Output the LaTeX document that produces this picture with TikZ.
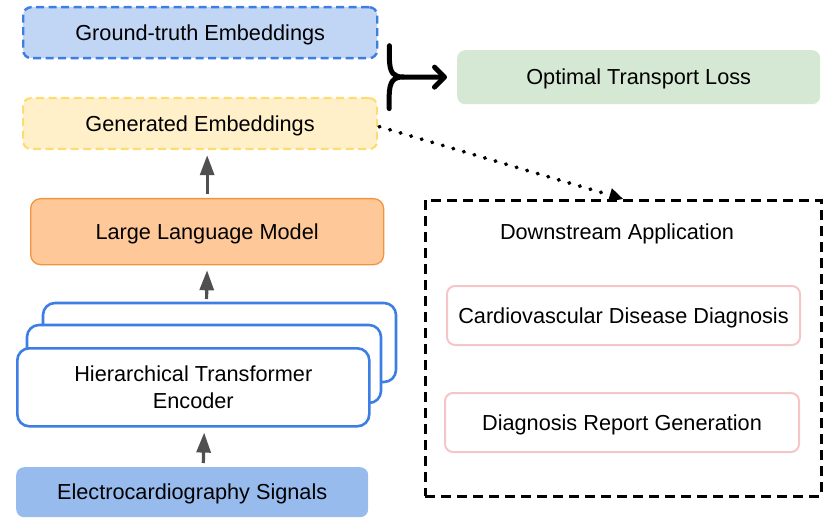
\documentclass[tikz,border=0pt]{standalone}
\usepackage{fontspec}
\setmainfont{Liberation Sans}
\usetikzlibrary{arrows.meta,calc}
\definecolor{gtfill}{HTML}{C1D6F5}
\definecolor{gtline}{HTML}{3C7EE4}
\definecolor{genfill}{HTML}{FFF0C9}
\definecolor{genline}{HTML}{FFDC73}
\definecolor{llmfill}{HTML}{FFC899}
\definecolor{llmline}{HTML}{F0943E}
\definecolor{otfill}{HTML}{D5E8D4}
\definecolor{ecgfill}{HTML}{98BBEE}
\definecolor{pinkline}{HTML}{F5C6C6}
\definecolor{arrgray}{HTML}{505050}
\tikzset{
  x=1pt,y=-1pt,
  txt/.style={font=\fontsize{21.7}{27}\selectfont, align=center, text=black},
  onel/.style={text height=15.5pt, text depth=0pt},
  box/.style={txt, rounded corners=8pt, inner sep=0pt, anchor=north west},
  grayarr/.style={draw=arrgray, line width=3.2pt, shorten >=5pt, shorten <=4pt,
    -{Triangle[length=20pt,width=14pt]}},
}
\begin{document}
\begin{tikzpicture}
\useasboundingbox (0,0) rectangle (828,524);
% top-left embeddings
\node[box, onel, fill=gtfill, draw=gtline, line width=2.4pt, dash pattern=on 8pt off 4.5pt,
  minimum width=354pt, minimum height=51pt] (gt) at (22,6) {Ground-truth Embeddings};
\node[box, onel, fill=genfill, draw=genline, line width=2.2pt, dash pattern=on 8pt off 4.5pt,
  minimum width=354pt, minimum height=51pt] (gen) at (22,97) {Generated Embeddings};
% optimal transport loss
\node[box, onel, fill=otfill, minimum width=363pt, minimum height=54pt] (ot) at (457,50) {Optimal Transport Loss};
% brace and arrow
\coordinate (btop) at ($(gt.east)+(11,13)$);
\coordinate (bbot) at ($(gen.east)+(11,-15)$);
\coordinate (bmid) at (403,77);
\draw[line width=5pt, line cap=round] (btop) -- ++(0,12) .. controls ($(btop)+(0,28)$) and ($(bmid)+(-9,0)$) .. (bmid)
  (bbot) -- ++(0,-12) .. controls ($(bbot)+(0,-28)$) and ($(bmid)+(-9,0)$) .. (bmid);
\draw[line width=5pt, line cap=round, -{Straight Barb[length=10pt,width=20pt,round]}] (bmid) -- ($(ot.west)+(-10,0)$);
% downstream box
\node[draw=black, line width=2.6pt, dash pattern=on 10pt off 6pt, anchor=north west,
  minimum width=396pt, minimum height=296pt, inner sep=0pt] (ds) at (424,199) {};
\node[txt, onel] (dstitle) at (617,232) {Downstream Application};
\node[box, onel, draw=pinkline, line width=2pt, minimum width=353pt, minimum height=59pt] (cvd) at (446,285) {Cardiovascular Disease Diagnosis};
\node[box, onel, draw=pinkline, line width=2pt, minimum width=354pt, minimum height=59pt] (drg) at (444,392) {Diagnosis Report Generation};
% dotted arrow
\draw[line width=3.8pt, line cap=round, dash pattern=on 0.6pt off 10.4pt,
  -{Triangle[length=14pt,width=13pt]}] ($(gen.east)+(1,3)$) -- (ds.north);
% LLM
\node[box, onel, fill=llmfill, draw=llmline, line width=1.3pt, rounded corners=10pt,
  minimum width=353pt, minimum height=66pt] (llm) at (30,198) {Large Language Model};
% encoder stack
\draw[gtline, line width=2.6pt, fill=white, rounded corners=12pt] (43,303) rectangle (396,382);
\draw[gtline, line width=2.6pt, fill=white, rounded corners=12pt] (27,325) rectangle (381,403);
\node[box, draw=gtline, fill=white, line width=2.6pt, rounded corners=12pt,
  minimum width=352pt, minimum height=78pt] (enc) at (16,347) {Hierarchical Transformer\\Encoder};
\coordinate (enctop) at (206.5,303);
% ECG
\node[box, onel, fill=ecgfill, minimum width=352pt, minimum height=50pt] (ecg) at (16,467) {Electrocardiography Signals};
% arrows
\draw[grayarr] (llm.north) -- (llm.north |- gen.south);
\draw[grayarr] (enctop) -- (llm.south);
\draw[grayarr] ($(ecg.north)+(11,0)$) -- ($(enc.south)+(11,0)$);
\end{tikzpicture}
\end{document}
